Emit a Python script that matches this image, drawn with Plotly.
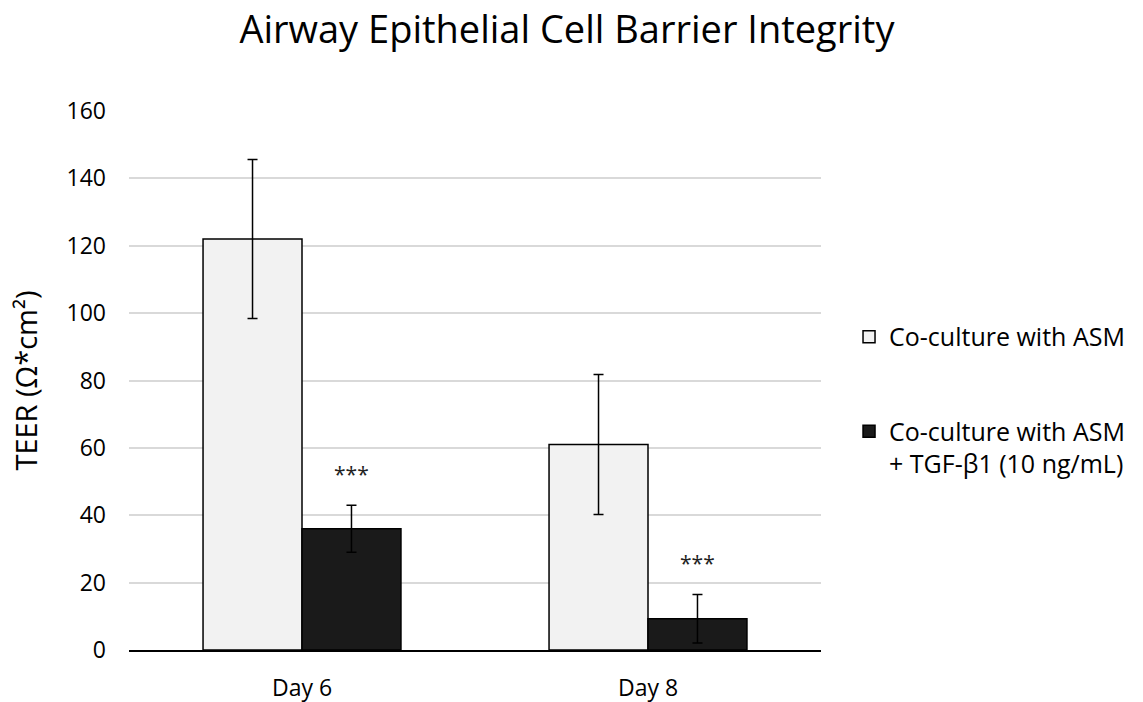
import plotly.graph_objects as go

categories = ["Day 6", "Day 8"]
series_names = ["Co-culture with ASM", "Co-culture with ASM<br>+ TGF-β1 (10 ng/mL)"]
control_mean = [122, 61]
control_err = [23.6, 20.8]
tgf_mean = [36, 9.3]
tgf_err = [7, 7.2]
sig_labels = ["***", "***"]
yticks = [0, 20, 40, 60, 80, 100, 120, 140, 160]

FONT = "Open Sans"

fig = go.Figure()
fig.add_trace(go.Bar(
    x=categories, y=control_mean, name=series_names[0], legendgroup="a",
    marker=dict(color="#f2f2f2", line=dict(color="#000000", width=1.5)),
    error_y=dict(type="data", array=control_err, color="#000000", thickness=1.5, width=5),
))
fig.add_trace(go.Bar(
    x=categories, y=tgf_mean, name=series_names[1], legendgroup="b",
    marker=dict(color="#1a1a1a", line=dict(color="#000000", width=1.5)),
    error_y=dict(type="data", array=tgf_err, color="#000000", thickness=1.5, width=5),
))

for i, cat in enumerate(categories):
    fig.add_annotation(
        x=cat, y=tgf_mean[i] + tgf_err[i], text=sig_labels[i], showarrow=False,
        xshift=49.5, yshift=31, font=dict(family=FONT, size=21, color="#222222"),
    )

fig.update_layout(
    width=1143, height=702,
    margin=dict(l=129, r=322, t=111, b=52, autoexpand=False),
    paper_bgcolor="white", plot_bgcolor="white",
    barmode="group", bargap=0.428, bargroupgap=0,
    title=dict(text="Airway Epithelial Cell Barrier Integrity", x=0.496, xanchor="center",
               y=0.957, yanchor="middle", font=dict(family=FONT, size=38, color="#000000")),
    font=dict(family=FONT, color="#000000"),
    legend=dict(x=1.0405, xanchor="left", y=0.6234, yanchor="top", valign="top",
                tracegroupgap=59, font=dict(family=FONT, size=25, color="#000000"),
                bgcolor="rgba(0,0,0,0)"),
    xaxis=dict(showline=True, linecolor="#000000", linewidth=1.5, ticks="", ticklabelstandoff=17,
               automargin=False,
               tickfont=dict(family=FONT, size=23, color="#000000"), showgrid=False),
    yaxis=dict(range=[0, 160], tickvals=yticks, showgrid=True, gridcolor="#d9d9d9", gridwidth=1.5,
               zeroline=False, showline=False, ticks="", ticklabelstandoff=22, automargin=False,
               tickfont=dict(family=FONT, size=23, color="#000000"),
               title=dict(text="TEER (Ω*cm²)", font=dict(family=FONT, size=29, color="#000000"), standoff=20)),
)

fig.write_html("out.html")
